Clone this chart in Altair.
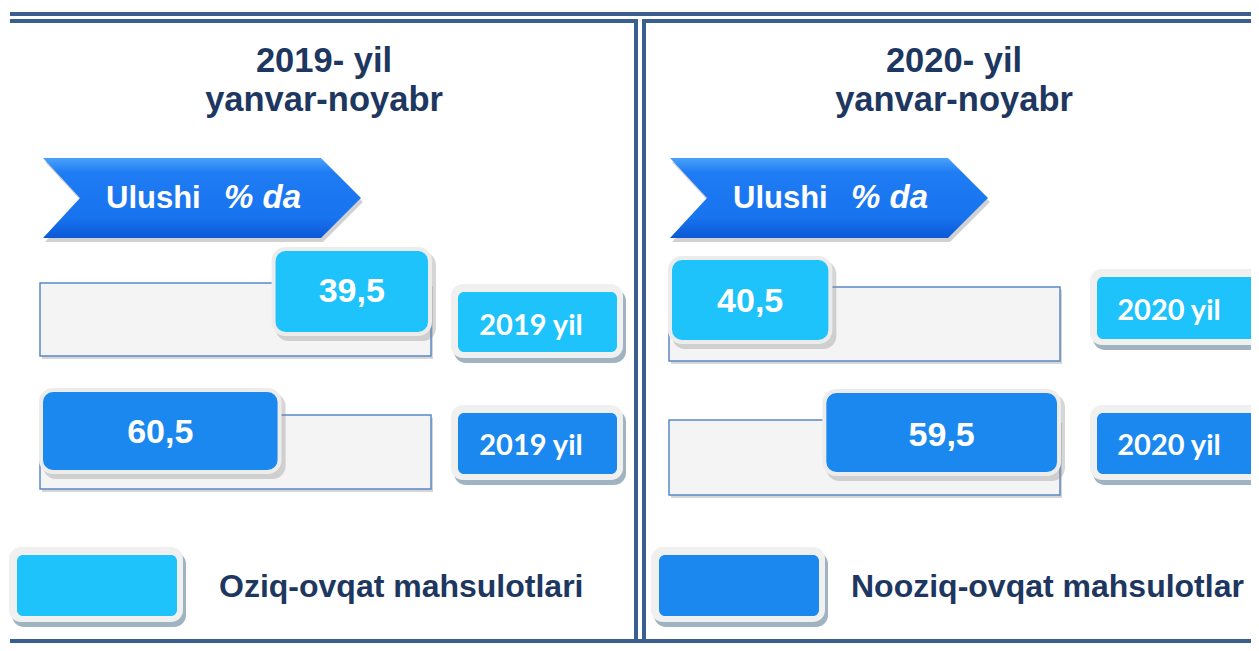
import altair as alt
import pandas as pd

# ---------------- data ----------------
years = ["2019", "2020"]
panel_titles = ["2019- yil", "2020- yil"]
period = "yanvar-noyabr"
badge_words = ["Ulushi", "% da"]
categories = ["Oziq-ovqat mahsulotlari", "Nooziq-ovqat mahsulotlar"]
food_share = [39.5, 40.5]
nonfood_share = [60.5, 59.5]
year_labels = ["2019 yil", "2020 yil"]

# ---------------- styles ----------------
FONT = "Liberation Sans"
TAG_FONT = "Lato"
NAVY = "#1d3761"
LINE = "#3a5f8f"
BOX_COLORS = ["#1ec3fb", "#1b88f0"]
TAG_COLORS = ["#1ab8f6", "#137fe6"]

# ---------------- layout (page pixels; the chart starts at 8,8) ----------------
W, H = 1243, 635
xs = alt.Scale(domain=[8, 8 + W], nice=False, zero=False)
ys = alt.Scale(domain=[8, 8 + H], nice=False, zero=False, reverse=True)

panel_cx = [324, 954]
title_base = [72, 111]
arrow_left = [43, 670]
arrow_w, arrow_h, arrow_cy = 318, 80, 198
badge_dx = [63, 181]
badge_base = 208
track_x = [(40, 431), (669, 1060)]
track_y = [[(283, 356), (415, 489)], [(287, 361), (420, 495)]]
box_y = [[(247, 336), (388, 474)], [(256, 344), (389, 476)]]
box_anchor = [["end", "start"], ["start", "end"]]
value_base = [[302, 443], [312, 446]]
tag_x = [(451, 623), (1090, 1262)]
tag_y = [[(284, 358), (405, 480)], [(269, 345), (405, 480)]]
tag_text_x = [531, 1169]
tag_base = [[335, 455], [320, 455]]
legend_x = [(9, 183), (651, 825)]
legend_y = (547, 622)
legend_text_x = [219, 851]
legend_base = 597

shares = [food_share, nonfood_share]


def X(f):
    return alt.X(f"{f}:Q", scale=xs, axis=None)


def Y(f):
    return alt.Y(f"{f}:Q", scale=ys, axis=None)


def rect(df, **kw):
    return alt.Chart(df).mark_rect(**kw).encode(x=X("x"), x2="x2:Q", y=Y("y"), y2="y2:Q")


layers = []

# ---- frame lines ----
frame = pd.DataFrame([
    dict(x=10, x2=1259, y=14, y2=14),
    dict(x=10, x2=638, y=21, y2=21),
    dict(x=642, x2=1259, y=21, y2=21),
    dict(x=636, x2=636, y=19, y2=651),
    dict(x=644, x2=644, y=19, y2=651),
    dict(x=10, x2=1259, y=641, y2=641),
])
layers.append(alt.Chart(frame).mark_rule(color=LINE, strokeWidth=4).encode(
    x=X("x"), x2="x2:Q", y=Y("y"), y2="y2:Q"))

# ---- titles ----
titles = pd.DataFrame(
    [dict(t=panel_titles[p], x=panel_cx[p], y=title_base[0]) for p in range(2)]
    + [dict(t=period, x=panel_cx[p], y=title_base[1]) for p in range(2)])
layers.append(alt.Chart(titles).mark_text(
    font=FONT, fontSize=34.5, fontWeight="bold", color=NAVY, align="center", baseline="alphabetic"
).encode(x=X("x"), y=Y("y"), text="t:N"))

# ---- arrow badge ----
hx = 2 * (arrow_h / 2) / arrow_w
sx = 1 - 2 * 40 / arrow_w
nx = -1 + 2 * 37 / arrow_w
ARROW = f"M -1 {-hx:.4f} L {sx:.4f} {-hx:.4f} L 1 0 L {sx:.4f} {hx:.4f} L -1 {hx:.4f} L {nx:.4f} 0 Z"
arrows = pd.DataFrame([dict(x=arrow_left[p] + arrow_w / 2, y=arrow_cy) for p in range(2)])
arrow_shadow = pd.DataFrame([dict(x=arrow_left[p] + arrow_w / 2 + 2, y=arrow_cy + 4) for p in range(2)])
layers.append(alt.Chart(arrow_shadow).mark_point(
    shape=ARROW, size=arrow_w ** 2, filled=True, color="#7a7a7a", opacity=0.35
).encode(x=X("x"), y=Y("y")))
grad = alt.LinearGradient(
    gradient="linear", x1=0, y1=0, x2=0, y2=1,
    stops=[alt.GradientStop(color="#4aa2fa", offset=0),
           alt.GradientStop(color="#1f7cf3", offset=0.18),
           alt.GradientStop(color="#1873ef", offset=0.75),
           alt.GradientStop(color="#0b58d6", offset=1)])
layers.append(alt.Chart(arrows).mark_point(
    shape=ARROW, size=arrow_w ** 2, filled=True, fill=grad, opacity=1
).encode(x=X("x"), y=Y("y")))
badges = pd.DataFrame([dict(t=badge_words[i], x=arrow_left[p] + badge_dx[i], y=badge_base, i=i)
                       for p in range(2) for i in range(2)])
layers.append(alt.Chart(badges).transform_filter("datum.i == 0").mark_text(
    font=FONT, fontSize=31, fontWeight="bold", color="white", align="left", baseline="alphabetic"
).encode(x=X("x"), y=Y("y"), text="t:N"))
layers.append(alt.Chart(badges).transform_filter("datum.i == 1").mark_text(
    font=FONT, fontSize=33, fontWeight="bold", fontStyle="italic", color="white",
    align="left", baseline="alphabetic"
).encode(x=X("x"), y=Y("y"), text="t:N"))

# ---- tracks ----
tracks = pd.DataFrame([dict(x=track_x[p][0], x2=track_x[p][1], y=track_y[p][c][0], y2=track_y[p][c][1])
                       for p in range(2) for c in range(2)])
tshadow = tracks.assign(x=tracks.x + 2, x2=tracks.x2 + 2, y=tracks.y + 3, y2=tracks.y2 + 3)
layers.append(rect(tshadow, color="#d6d6d6"))
layers.append(rect(tracks, fill="#f4f4f4", stroke="#5a88c6", strokeWidth=1.5))

# ---- value boxes (width from share) ----
bars = pd.DataFrame([dict(category=categories[c], value=shares[c][p],
                          tx0=track_x[p][0], tx1=track_x[p][1],
                          by0=box_y[p][c][0], by1=box_y[p][c][1],
                          anchor=box_anchor[p][c], base=value_base[p][c])
                     for p in range(2) for c in range(2)])
bar_base = alt.Chart(bars).transform_calculate(
    bw="datum.value / 100 * (datum.tx1 - datum.tx0) + 6"
).transform_calculate(
    bx0="datum.anchor == 'end' ? datum.tx1 + 1 - datum.bw : datum.tx0 - 1"
).transform_calculate(
    bx1="datum.bx0 + datum.bw",
    cx="datum.bx0 + datum.bw / 2",
    label="replace(format(datum.value, '.1f'), '.', ',')",
)
box_color = alt.Color("category:N", scale=alt.Scale(domain=categories, range=BOX_COLORS), legend=None)
layers.append(bar_base.transform_calculate(
    sx0="datum.bx0 + 4", sx1="datum.bx1 + 4", sy0="datum.by0 + 5", sy1="datum.by1 + 5"
).mark_rect(cornerRadius=13, color="#8a8a8a", opacity=0.35).encode(
    x=X("sx0"), x2="sx1:Q", y=Y("sy0"), y2="sy1:Q"))
layers.append(bar_base.transform_calculate(
    ix0="datum.bx0 + 2", ix1="datum.bx1 - 2", iy0="datum.by0 + 2", iy1="datum.by1 - 2"
).mark_rect(cornerRadius=12, stroke="#ececec", strokeWidth=4).encode(
    x=X("ix0"), x2="ix1:Q", y=Y("iy0"), y2="iy1:Q", fill=box_color))
layers.append(bar_base.mark_text(
    font=FONT, fontSize=34, fontWeight="bold", color="white", align="center", baseline="alphabetic"
).encode(x=X("cx"), y=Y("base"), text="label:N"))

# ---- year tags ----
tags = pd.DataFrame([dict(category=categories[c], t=year_labels[p],
                          x=tag_x[p][0], x2=tag_x[p][1], y=tag_y[p][c][0], y2=tag_y[p][c][1],
                          cx=tag_text_x[p], base=tag_base[p][c])
                     for p in range(2) for c in range(2)])
tag_color = alt.Color("category:N", scale=alt.Scale(domain=categories, range=TAG_COLORS), legend=None)
layers.append(rect(tags.assign(x=tags.x + 3, x2=tags.x2 + 3, y=tags.y + 5, y2=tags.y2 + 5),
                   color="#9fb3c0", cornerRadius=12))
layers.append(rect(tags, color="#f0f0f0", cornerRadius=12))
layers.append(alt.Chart(tags.assign(x=tags.x + 7, x2=tags.x2 - 6, y=tags.y + 8, y2=tags.y2 - 6))
              .mark_rect(cornerRadius=6).encode(x=X("x"), x2="x2:Q", y=Y("y"), y2="y2:Q", fill=tag_color))
layers.append(alt.Chart(tags).mark_text(
    font=TAG_FONT, fontSize=29, fontWeight="bold", color="white", align="center", baseline="alphabetic"
).encode(x=X("cx"), y=Y("base"), text="t:N"))

# ---- legend ----
leg = pd.DataFrame([dict(category=categories[c], x=legend_x[c][0], x2=legend_x[c][1],
                         y=legend_y[0], y2=legend_y[1], tx=legend_text_x[c], ty=legend_base)
                    for c in range(2)])
layers.append(rect(leg.assign(x=leg.x + 3, x2=leg.x2 + 3, y=leg.y + 5, y2=leg.y2 + 5),
                   color="#9fb3c0", cornerRadius=12))
layers.append(rect(leg, color="#f0f0f0", cornerRadius=12))
layers.append(alt.Chart(leg.assign(x=leg.x + 8, x2=leg.x2 - 6, y=leg.y + 8, y2=leg.y2 - 6))
              .mark_rect(cornerRadius=6).encode(x=X("x"), x2="x2:Q", y=Y("y"), y2="y2:Q", fill=tag_color))
layers.append(alt.Chart(leg).mark_text(
    font=FONT, fontSize=32, fontWeight="bold", color=NAVY, align="left", baseline="alphabetic"
).encode(x=X("tx"), y=Y("ty"), text="category:N"))

chart = alt.layer(*layers).properties(
    width=W, height=H, padding=0, autosize=alt.AutoSizeParams(type="none"), background="white"
).configure_view(stroke=None)

chart.save("out.html", embed_options={"renderer": "svg", "actions": False})
